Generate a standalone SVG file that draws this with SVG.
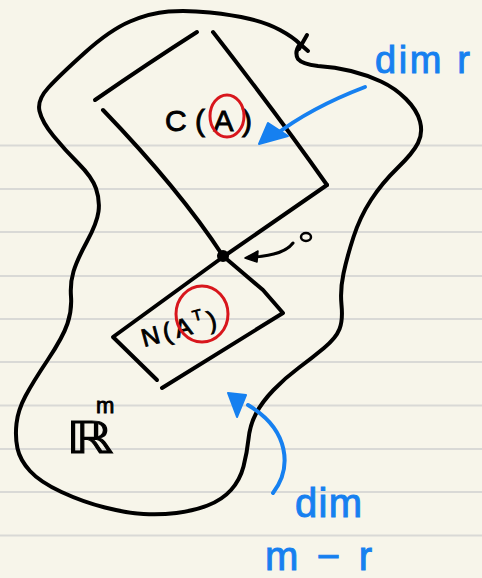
<svg xmlns="http://www.w3.org/2000/svg" width="482" height="578" viewBox="0 0 482 578">
  <style>
    .ink { fill: none; stroke: #000; stroke-width: 4; stroke-linecap: round; stroke-linejoin: round; }
    .red { fill: none; stroke: #d8161c; stroke-width: 3; }
    .blue { fill: none; stroke: #1680f0; stroke-width: 4; stroke-linecap: round; }
    .bluefill { fill: #1680f0; stroke: #1680f0; stroke-width: 2; stroke-linejoin: round; }
    .rule { stroke: #d9d9d6; stroke-width: 2; }
    .lbl { font-family: "Liberation Sans", "DejaVu Sans", sans-serif; fill: #000; stroke: #000; stroke-width: 0.9; }
    .blbl { font-family: "Liberation Sans", "DejaVu Sans", sans-serif; fill: #1680f0; stroke: #1680f0; stroke-width: 1; }
  </style>
  <rect width="482" height="578" fill="#f7f5ea"/>
  <g id="paper-rules">
    <line class="rule" x1="0" y1="145.5" x2="482" y2="145.5"/>
    <line class="rule" x1="0" y1="189" x2="482" y2="189"/>
    <line class="rule" x1="0" y1="232" x2="482" y2="232"/>
    <line class="rule" x1="0" y1="276" x2="482" y2="276"/>
    <line class="rule" x1="0" y1="319" x2="482" y2="319"/>
    <line class="rule" x1="0" y1="362" x2="482" y2="362"/>
    <line class="rule" x1="0" y1="405.5" x2="482" y2="405.5"/>
    <line class="rule" x1="0" y1="449" x2="482" y2="449"/>
    <line class="rule" x1="0" y1="492" x2="482" y2="492"/>
    <line class="rule" x1="0" y1="535.5" x2="482" y2="535.5"/>
  </g>

  <g id="region-Rm">
    <path class="ink" d="M 210,12.5 Q 233,15 250,19 Q 267,23 280,30 Q 293,37 300,44 Q 294,52 298,59 Q 302,64 318,66 Q 335,67 351,71 Q 367,75 381,81.5 Q 395,88 406,99 Q 417,110 420,121.5 Q 423,133 418,143 Q 413,153 397.5,168 Q 382,183 371,200 Q 360,217 353.5,237 Q 347,257 343.5,273.5 Q 340,290 341.5,305 Q 343,320 339.5,329 Q 336,338 324,348 Q 312,358 298.5,368 Q 285,378 273.5,390 Q 262,402 256,413.5 Q 250,425 248.5,439 Q 247,453 243.5,466.5 Q 240,480 231,490 Q 222,500 207.5,505.5 Q 193,511 176.5,513 Q 160,515 143.5,514 Q 127,513 105,507.5 Q 83,502 61.5,492 Q 40,482 30,471 Q 20,460 17.5,448.5 Q 15,437 16.5,423.5 Q 18,410 25.5,396 Q 33,382 48,359.5 Q 63,337 67.5,323.5 Q 72,310 71,296.5 Q 70,283 73.5,271.5 Q 77,260 87,241.5 Q 97,223 98.5,211.5 Q 100,200 96,188.5 Q 92,177 78.5,163.5 Q 65,150 53.5,136 Q 42,122 39.5,111 Q 37,100 48.5,87.5 Q 60,75 85,52.5 Q 110,30 130,21.5 Q 150,13 168.5,11.5 Q 187,10 210,12.5 Z"/>
    <path class="ink" d="M 307,35 L 299,49 M 300,44 L 308,51" stroke-width="3.5"/>
    <text class="lbl" x="66" y="453" font-size="44" textLength="48" lengthAdjust="spacingAndGlyphs">ℝ</text>
    <text class="lbl" x="96" y="413" font-size="22">m</text>
  </g>

  <g id="column-space">
    <path class="ink" d="M 95,100 Q 150,62 197,32"/>
    <path class="ink" d="M 213,32 Q 280,118 327,185"/>
    <path class="ink" d="M 327,185 L 223,257"/>
    <path class="ink" d="M 103,110 Q 180,190 223,256"/>
    <text class="lbl" x="165" y="131" font-size="30" textLength="87" lengthAdjust="spacing">C(A)</text>
    <ellipse class="red" cx="227" cy="116" rx="17" ry="21"/>
  </g>

  <g id="null-space">
    <path class="ink" d="M 223,257 L 113,337 L 157,380"/>
    <path class="ink" d="M 223,256 L 263,290 L 283,313 L 162,388"/>
    <text class="lbl" x="144" y="347" font-size="25" letter-spacing="4" transform="rotate(-15 144 347)">N(A<tspan font-size="15" dy="-12">T</tspan><tspan dy="12">)</tspan></text>
    <ellipse class="red" cx="202" cy="314" rx="26" ry="28"/>
  </g>

  <g id="origin">
    <circle cx="223" cy="256" r="6" fill="#000"/>
    <ellipse cx="306" cy="237" rx="5" ry="4" fill="none" stroke="#000" stroke-width="2.5"/>
  </g>

  <g id="label-dim-r">
    <text class="blbl" x="375" y="73" font-size="38" textLength="95" lengthAdjust="spacing">dim r</text>
  </g>
  <g id="label-dim-m-r">
    <text class="blbl" x="295" y="517" font-size="40" textLength="67" lengthAdjust="spacing">dim</text>
    <text class="blbl" x="265" y="570" font-size="40" textLength="107" lengthAdjust="spacing">m − r</text>
  </g>

  <g id="connectors">
    <path d="M 293,243 Q 284,255 255,257" fill="none" stroke="#000" stroke-width="3" stroke-linecap="round"/>
    <polygon points="245,258 258,251 257,262" fill="#000" stroke="#000" stroke-width="1.5" stroke-linejoin="round"/>
    <path class="blue" d="M 365,87 Q 310,108 274,136"/>
    <polygon class="bluefill" points="259,144 268,123 288,136"/>
    <path class="blue" d="M 273,493 C 292,468 290,430 248,405"/>
    <polygon class="bluefill" points="228,393 246,395 237,417"/>
  </g>
</svg>
